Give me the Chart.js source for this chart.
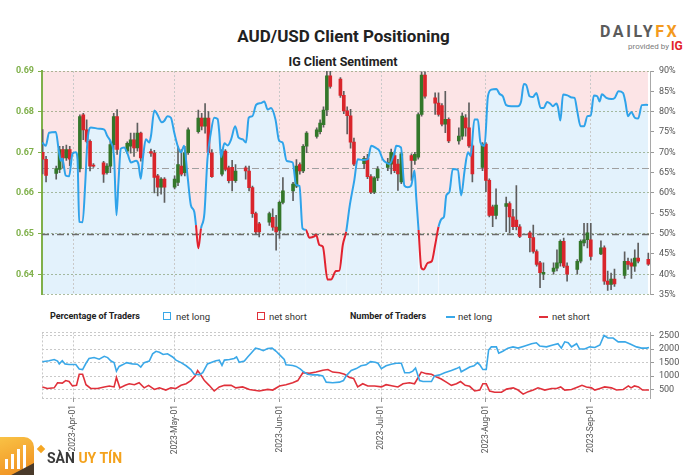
<!DOCTYPE html>
<html>
<head>
<meta charset="utf-8">
<title>AUD/USD Client Positioning</title>
<script src="https://cdn.jsdelivr.net/npm/chart.js@4.4.1/dist/chart.umd.min.js"></script>
<style>
  body { margin: 0; background: #fff; font-family: Roboto, sans-serif; }
  #page { position: relative; width: 700px; height: 475px; overflow: hidden; background: #fff; }
  canvas { position: absolute; left: 0; }
  .t { position: absolute; white-space: nowrap; }
  #title { left: 0; width: 687px; top: 26px; text-align: center; font: 700 17px/20px Roboto, sans-serif; color: #222; }
  #subtitle { left: 0; width: 686px; top: 54px; text-align: center; font: 700 12.5px/15px Roboto, sans-serif; color: #222; }
  #logo { left: 600px; top: 23px; font: 700 16px/18px Roboto, sans-serif; letter-spacing: 2.6px; color: #5b5b5b; }
  #logo span { color: #f39a1e; }
  #provided { left: 628px; top: 42px; font: 8px/10px Roboto, sans-serif; color: #7a7a7a; }
  #ig { left: 671px; top: 39px; font: 700 12px/14px Roboto, sans-serif; color: #e3242b; }
  .lg { top: 311px; font: 9.5px/11px Roboto, sans-serif; color: #333; }
  .lgb { font-weight: 700; font-size: 9px; color: #222; }
  .sq { position: absolute; top: 312px; width: 6px; height: 6px; border: 1.6px solid; }
  .ln { position: absolute; top: 315.5px; width: 9px; height: 2px; }
  #wm { left: 0; top: 437px; width: 34px; height: 38px; border-radius: 0 10px 0 0;
        background: linear-gradient(160deg, #f9c245, #f08d1f); position: absolute; overflow: hidden; }
  #wm i { position: absolute; bottom: 6px; width: 3px; background: #fff; }
  #wm b { position: absolute; left: 14px; bottom: -14px; width: 30px; height: 22px; background: #4a3a2a; transform: rotate(-28deg); }
  #star { left: 38px; top: 446px; width: 6px; height: 6px; background: #f5a623; transform: rotate(45deg); position: absolute; }
  #wmtext { left: 47px; top: 450px; font: 700 14px/16px Roboto, sans-serif; color: #3a3a3a; }
  #wmtext span { color: #f4a21c; }
</style>
</head>
<body>
<div id="page">
  <div class="t" id="title">AUD/USD Client Positioning</div>
  <div class="t" id="subtitle">IG Client Sentiment</div>
  <div class="t" id="logo">DAILY<span>FX</span></div>
  <div class="t" id="provided">provided by</div>
  <div class="t" id="ig">IG</div>

  <canvas id="main" width="700" height="245" style="top:60px"></canvas>

  <div class="t lg lgb" style="left:50px">Percentage of Traders</div>
  <div class="sq" style="left:163px;border-color:#3aa8e8"></div>
  <div class="t lg" style="left:176px">net long</div>
  <div class="sq" style="left:257px;border-color:#e0303a"></div>
  <div class="t lg" style="left:269px">net short</div>
  <div class="t lg lgb" style="left:350px">Number of Traders</div>
  <div class="ln" style="left:446px;background:#3aa8e8"></div>
  <div class="t lg" style="left:458px">net long</div>
  <div class="ln" style="left:539px;background:#e0303a"></div>
  <div class="t lg" style="left:552px">net short</div>

  <canvas id="traders" width="700" height="153" style="top:322px"></canvas>

  <div id="wm"><i style="left:5px;height:10px"></i><i style="left:11px;height:15px"></i><i style="left:17px;height:20px"></i><i style="left:23px;height:24px"></i><b></b></div>
  <div id="star"></div>
  <div class="t" id="wmtext">SÀN <span>UY TÍN</span></div>
</div>

<script>
// colours
const BLUE = '#2fa3ea', RED = '#e1222f';
const PINK = '#fce4e6', PALE_BLUE = '#e3f2fc';
const UP = '#33772a', DOWN = '#d9252b', WICK = '#5e5e5e';
const AXIS_GREEN = '#7fb04a';

// x values are days counted from 2023-04-01
const xMin = -9.2, xMax = 170.5;
const monthDays = [0, 30, 61, 91, 122, 153];
const monthLabels = ['2023-Apr-01', '2023-May-01', '2023-Jun-01', '2023-Jul-01', '2023-Aug-01', '2023-Sep-01'];
const priceTicks = [0.64, 0.65, 0.66, 0.67, 0.68, 0.69];
const pctTicks = [35, 40, 45, 50, 55, 60, 65, 70, 75, 80, 85, 90];
const traderTicks = [500, 1000, 1500, 2000, 2500];
const refLevels = [50, 66.2];

// daily AUD/USD candles
const candleDay = [-9, -8, -5, -4, -3, -2, -1, 2, 3, 4, 5, 6, 9, 10, 11, 12, 13, 16, 17, 18, 19, 20,
  23, 24, 25, 26, 27, 30, 31, 32, 33, 34, 37, 38, 39, 40, 41, 44, 45, 46, 47, 48, 51, 52, 53, 54, 55,
  58, 59, 60, 61, 62, 65, 66, 67, 68, 69, 72, 73, 74, 75, 76, 79, 80, 81, 82, 83, 86, 87, 88, 89, 90,
  93, 94, 95, 96, 97, 100, 101, 102, 103, 104, 107, 108, 109, 110, 111, 114, 115, 116, 117, 118,
  121, 122, 123, 124, 125, 128, 129, 130, 131, 132, 135, 136, 137, 138, 139, 142, 143, 144, 145, 146,
  149, 150, 151, 152, 153, 156, 157, 158, 159, 160, 163, 164, 165, 166, 167, 170];
const openP = [.6700, .6683, .6648, .6658, .6707, .6686, .6707, .6660, .6792, .6755, .6727, .6668, .6674, .6650, .6666, .6719, .6788,
  .6703, .6715, .6731, .6711, .6747, .6702, .6698, .6642, .6614, .6634, .6614, .6626, .6666, .6650, .6699,
  .6751, .6784, .6764, .6784, .6699, .6646, .6703, .6662, .6663, .6630, .6662, .6654, .6613, .6549, .6524,
  .6528, .6540, .6516, .6508, .6577, .6605, .6617, .6670, .6654, .6715, .6739, .6751, .6768, .6804, .6888,
  .6880, .6840, .6802, .6790, .6725, .6672, .6685, .6640, .6602, .6637, .6663, .6671, .6692, .6671, .6627,
  .6692, .6680, .6688, .6793, .6890, .6834, .6821, .6815, .6769, .6781, .6728, .6740, .6785, .6760, .6716,
  .6663, .6720, .6631, .6566, .6545, .6567, .6574, .6541, .6533, .6517, .6502, .6490, .6456, .6428, .6400,
  .6407, .6415, .6428, .6481, .6420, .6412, .6432, .6477, .6485, .6485, .6450, .6465, .6383, .6375, .6388,
  .6397, .6432, .6428, .6420, .6440, .6437];
const highP = [.6756, .6690, .6666, .6715, .6715, .6718, .6715, .6792, .6796, .6780, .6731, .6672, .6678, .6672, .6727, .6796, .6805,
  .6726, .6747, .6747, .6772, .6750, .6708, .6705, .6646, .6638, .6638, .6642, .6715, .6707, .6715, .6760,
  .6804, .6796, .6820, .6800, .6707, .6707, .6707, .6666, .6680, .6670, .6666, .6666, .6617, .6553, .6528,
  .6553, .6561, .6545, .6580, .6638, .6626, .6682, .6674, .6719, .6751, .6760, .6780, .6812, .6900, .6900,
  .6884, .6850, .6812, .6806, .6735, .6690, .6695, .6645, .6640, .6665, .6685, .6708, .6702, .6683, .6700,
  .6696, .6700, .6797, .6898, .6898, .6846, .6846, .6820, .6850, .6785, .6760, .6797, .6793, .6822, .6720,
  .6724, .6724, .6635, .6570, .6610, .6590, .6578, .6560, .6618, .6522, .6506, .6521, .6460, .6432, .6428,
  .6428, .6460, .6485, .6489, .6428, .6436, .6485, .6525, .6525, .6525, .6482, .6470, .6408, .6403, .6413,
  .6455, .6440, .6438, .6460, .6477, .6452];
const lowP = [.6647, .6627, .6634, .6650, .6662, .6680, .6667, .6652, .6731, .6723, .6654, .6663, .6626, .6646, .6650, .6707, .6695,
  .6698, .6698, .6690, .6703, .6678, .6690, .6600, .6593, .6597, .6577, .6610, .6618, .6642, .6642, .6695,
  .6747, .6755, .6747, .6695, .6638, .6642, .6654, .6625, .6605, .6626, .6634, .6605, .6540, .6500, .6492,
  .6520, .6508, .6459, .6488, .6573, .6581, .6613, .6646, .6650, .6699, .6735, .6745, .6762, .6790, .6858,
  .6835, .6795, .6745, .6710, .6667, .6660, .6635, .6598, .6598, .6630, .6655, .6647, .6650, .6606, .6623,
  .6631, .6670, .6683, .6789, .6833, .6793, .6789, .6765, .6748, .6724, .6720, .6732, .6740, .6712, .6627,
  .6655, .6603, .6541, .6517, .6536, .6505, .6501, .6510, .6509, .6490, .6455, .6452, .6420, .6367, .6387,
  .6400, .6408, .6420, .6416, .6383, .6400, .6428, .6470, .6465, .6435, .6448, .6375, .6360, .6362, .6370,
  .6390, .6412, .6390, .6407, .6428, .6422];
const closeP = [.6683, .6643, .6660, .6707, .6686, .6707, .6683, .6788, .6755, .6727, .6666, .6666, .6646, .6666, .6719, .6788, .6707,
  .6722, .6731, .6711, .6747, .6686, .6698, .6638, .6614, .6634, .6614, .6634, .6670, .6646, .6699, .6755,
  .6784, .6764, .6784, .6699, .6640, .6703, .6658, .6630, .6631, .6654, .6654, .6613, .6549, .6504, .6504,
  .6549, .6516, .6504, .6577, .6605, .6622, .6666, .6654, .6715, .6747, .6755, .6772, .6804, .6888, .6862,
  .6840, .6802, .6790, .6725, .6671, .6685, .6640, .6602, .6637, .6659, .6675, .6700, .6655, .6647, .6696,
  .6680, .6695, .6793, .6890, .6838, .6821, .6793, .6769, .6781, .6728, .6740, .6789, .6760, .6716, .6647,
  .6720, .6631, .6545, .6545, .6570, .6574, .6541, .6517, .6517, .6493, .6490, .6456, .6424, .6404, .6405,
  .6415, .6428, .6481, .6420, .6400, .6432, .6481, .6485, .6502, .6444, .6465, .6383, .6375, .6388, .6376,
  .6432, .6424, .6420, .6440, .6432, .6425];

// IG client sentiment: % of traders net long
const sentDay = [-9.1, -8.1, -7.1, -5.1, -4.3, -3.6, -3.2, -2.2, -1.2, -0.2, 0.8, 1.3, 1.8, 2.8, 3.6, 4.2, 5.2, 7.7, 9.2, 10.1,
  11.2, 12.1, 12.8, 13.4, 14.1, 15.1, 16.1, 17.1, 18.6, 19.3, 20.0, 20.7, 21.5, 22.5, 23.0, 24.0, 24.9, 26.2, 26.9, 27.9,
  28.9, 29.9, 30.9, 31.9, 32.8, 33.8, 34.8, 35.8, 36.3, 37.0, 37.8, 38.8, 39.7, 40.7, 41.7, 42.7, 43.2, 43.7, 44.7, 45.7,
  46.7, 47.9, 48.9, 50.1, 51.1, 51.9, 53.0, 54.1, 55.5, 56.5, 57.5, 58.5, 59.8, 60.9, 61.9, 63.1, 64.9, 65.9, 66.9, 67.8,
  68.8, 69.8, 71.3, 71.8, 72.8, 73.8, 75.2, 76.2, 77.7, 78.7, 79.7, 80.7, 81.7, 83.1, 84.1, 85.6, 87.1, 88.1, 89.6, 90.5,
  91.5, 92.5, 93.5, 95.0, 95.5, 96.9, 97.9, 98.9, 99.9, 100.9, 101.4, 102.1, 102.9, 103.6, 104.8, 106.0, 107.0, 108.0, 109.0, 109.6,
  110.3, 111.2, 112.2, 113.7, 114.7, 115.7, 116.7, 117.5, 118.6, 119.6, 120.4, 121.6, 122.6, 123.6, 125.1, 126.0, 127.0, 128.0, 129.5, 131.4,
  132.4, 133.2, 133.9, 134.9, 135.9, 136.9, 138.2, 139.1, 140.1, 141.1, 141.8, 142.8, 143.3, 144.0, 144.8, 146.1, 147.4, 148.2, 149.0, 150.0,
  151.0, 152.0, 153.0, 153.9, 154.9, 155.6, 156.3, 157.6, 159.1, 160.1, 161.2, 162.5, 163.2, 164.0, 165.0, 166.0, 167.0, 168.1, 169.4, 169.9];
const sentLong = [72.4, 71.6, 74.8, 75.0, 70.8, 67.9, 68.5, 64.3, 64.1, 69.6, 70.0, 68.3, 52.9, 52.8, 62.7, 72.4, 76.1, 75.8, 75.6, 74.0,
  72.4, 68.8, 54.5, 62.7, 70.9, 71.2, 69.6, 67.5, 67.9, 67.1, 63.5, 69.1, 73.2, 72.4, 74.0, 80.3, 79.3, 77.4, 77.7, 78.9,
  78.5, 74.8, 71.6, 70.0, 71.6, 64.3, 57.0, 55.4, 52.1, 46.4, 51.3, 55.0, 68.3, 74.8, 78.5, 78.2, 74.8, 68.8, 72.2, 71.7,
  73.2, 76.4, 73.6, 73.2, 72.4, 78.5, 78.9, 81.7, 82.1, 82.5, 80.5, 80.9, 78.1, 72.8, 72.4, 67.9, 67.5, 62.0, 61.7, 51.3,
  50.9, 49.0, 49.3, 49.7, 47.2, 46.8, 38.7, 38.7, 40.8, 40.9, 47.2, 50.5, 56.6, 63.1, 68.3, 68.1, 68.3, 71.6, 71.0, 70.4,
  68.3, 67.5, 67.1, 70.0, 71.6, 71.2, 61.8, 61.4, 61.8, 65.5, 59.0, 50.9, 41.6, 41.2, 42.8, 43.2, 47.2, 51.7, 53.7, 54.1,
  59.4, 60.2, 65.9, 65.7, 59.4, 65.5, 70.0, 69.1, 78.1, 78.1, 72.4, 71.6, 83.8, 85.4, 85.6, 84.4, 83.8, 81.6, 81.3, 81.3,
  82.5, 86.8, 86.6, 83.8, 83.6, 84.6, 80.9, 80.9, 82.4, 81.9, 81.3, 82.0, 81.1, 77.8, 84.2, 84.0, 83.5, 83.4, 80.1, 76.4,
  76.4, 78.9, 79.1, 84.0, 83.8, 82.5, 84.3, 83.4, 83.1, 83.4, 85.0, 84.6, 82.5, 78.9, 79.9, 78.5, 78.3, 81.6, 81.7, 81.6];

// number of traders
const longDay = [-9.1, -7.1, -5.6, -4.6, -4.1, -3.2, -2.4, -1.2, 0.8, 1.8, 2.8, 3.8, 4.7, 6.2, 7.7, 9.2, 10.2, 11.2, 12.1, 12.8,
  13.6, 14.6, 15.8, 17.5, 19.0, 20.0, 21.0, 22.5, 23.5, 24.5, 25.5, 26.6, 27.9, 29.4, 30.4, 31.9, 33.4, 34.8, 35.8, 37.3,
  38.3, 39.7, 41.2, 42.2, 43.2, 44.0, 44.7, 46.2, 47.6, 48.3, 49.1, 50.6, 51.6, 52.6, 53.9, 55.0, 56.2, 57.5, 58.8, 60.0,
  61.2, 62.4, 62.9, 64.9, 65.9, 67.1, 68.1, 69.3, 70.8, 72.3, 73.8, 74.8, 76.7, 78.7, 79.9, 80.7, 82.2, 83.7, 85.1, 86.6,
  87.9, 89.3, 90.1, 91.1, 92.5, 94.0, 95.5, 97.0, 98.0, 99.4, 100.4, 101.2, 102.4, 103.4, 105.9, 106.8, 108.3, 109.8, 111.8, 113.3,
  114.2, 114.7, 116.2, 117.2, 118.5, 119.5, 120.2, 121.1, 122.1, 122.8, 123.6, 125.1, 125.8, 127.0, 128.5, 130.0, 131.5, 133.5, 135.5, 136.9,
  137.9, 139.9, 141.8, 143.3, 144.3, 145.3, 146.3, 147.3, 148.8, 149.7, 151.2, 152.7, 154.2, 155.7, 156.9, 158.1, 159.6, 161.1, 163.1, 164.8,
  166.5, 168.0, 169.5, 170.2];
const longCount = [1535, 1570, 1616, 1558, 1453, 1570, 1453, 1430, 1430, 1267, 1244, 1477, 1651, 1686, 1628, 1732, 1686, 1558, 1500, 1186,
  1360, 1418, 1500, 1453, 1442, 1337, 1500, 1558, 1825, 1919, 1884, 1802, 1825, 1709, 1593, 1500, 1384, 1244, 1070, 1058,
  1128, 1453, 1523, 1570, 1593, 1395, 1593, 1616, 1651, 1709, 1512, 1558, 1709, 1849, 2035, 2000, 1942, 2023, 2035, 1919,
  1767, 1616, 1418, 1395, 1360, 1267, 1163, 1070, 1047, 1047, 1012, 779, 756, 779, 837, 1012, 1209, 1279, 1384, 1418,
  1535, 1512, 1477, 1279, 1384, 1442, 1477, 1477, 1128, 1128, 1186, 1302, 837, 802, 802, 1012, 1047, 1128, 1209, 1279,
  1337, 1163, 1267, 1337, 1384, 1500, 1418, 1244, 1244, 1965, 2081, 2081, 1849, 1919, 2035, 2081, 2035, 2116, 2198, 2232,
  2116, 2081, 2151, 2198, 2035, 2267, 2232, 2081, 2198, 2000, 2000, 2081, 2058, 2151, 2500, 2407, 2407, 2267, 2267, 2174,
  2081, 2035, 2035, 2058];
const shortDay = [-9.1, -7.6, -5.6, -4.6, -3.2, -2.2, -1.2, -0.2, 1.0, 1.8, 2.8, 3.8, 5.2, 7.2, 9.2, 10.7, 12.1, 12.8, 13.8, 15.4,
  16.6, 18.1, 19.5, 21.0, 22.3, 24.0, 25.5, 27.4, 28.9, 30.4, 31.9, 33.4, 34.8, 36.1, 36.8, 37.5, 38.8, 40.2, 41.7, 43.2,
  44.7, 46.7, 48.1, 50.1, 52.1, 55.0, 57.5, 59.0, 61.0, 62.9, 64.9, 66.4, 67.9, 69.8, 71.8, 73.8, 75.3, 76.7, 78.7, 80.2,
  81.7, 82.9, 84.1, 85.6, 87.1, 89.1, 91.1, 92.5, 94.5, 96.0, 97.5, 99.4, 100.9, 102.9, 104.4, 105.9, 107.3, 108.8, 110.3, 111.8,
  113.3, 114.5, 115.9, 117.2, 118.7, 120.2, 121.1, 122.1, 123.1, 124.6, 126.6, 128.1, 130.1, 131.5, 133.0, 134.5, 136.0, 137.4, 139.4, 141.4,
  142.9, 144.1, 145.3, 147.3, 149.2, 150.4, 151.7, 153.2, 154.2, 155.7, 157.1, 159.1, 160.6, 162.6, 164.1, 164.9, 165.9, 167.1, 168.3, 170.2];
const shortCount = [604, 546, 569, 756, 744, 837, 802, 639, 662, 1070, 1070, 686, 546, 546, 604, 639, 604, 953, 569, 662,
  721, 686, 756, 569, 662, 511, 569, 488, 569, 546, 662, 721, 837, 1012, 1209, 1093, 837, 662, 453, 604,
  662, 662, 569, 604, 511, 453, 511, 488, 639, 686, 756, 837, 1128, 1105, 1151, 1221, 1244, 1151, 1128, 1070,
  953, 918, 604, 721, 639, 639, 604, 686, 639, 604, 721, 756, 721, 1151, 1093, 1070, 977, 895, 779, 662,
  721, 802, 662, 627, 453, 488, 721, 721, 453, 407, 407, 523, 569, 488, 337, 430, 488, 569, 488, 546,
  546, 604, 488, 511, 604, 662, 604, 569, 488, 546, 604, 569, 488, 511, 639, 569, 639, 604, 488, 488];

// draws the 50% and mean dash-dot levels under the candles
const refLinePlugin = {
  id: 'refLines',
  beforeDatasetsDraw(chart) {
    const { ctx, chartArea, scales } = chart;
    const styles = [['#6c6c6c', 1.6], ['#a0a0a0', 1.1]];
    ctx.save();
    ctx.setLineDash([7, 3, 2, 3]);
    refLevels.forEach((lvl, i) => {
      const y = Math.round(scales.yPct.getPixelForValue(lvl)) + 0.5;
      ctx.strokeStyle = styles[i][0];
      ctx.lineWidth = styles[i][1];
      ctx.beginPath();
      ctx.moveTo(chartArea.left, y);
      ctx.lineTo(chartArea.right, y);
      ctx.stroke();
    });
    ctx.restore();
  }
};

const sentPts = sentDay.map((d, i) => ({ x: d, y: sentLong[i] }));
const wickPts = candleDay.map((d, i) => ({ x: d, y: [lowP[i], highP[i]] }));
const bodyPts = candleDay.map((d, i) => ({ x: d, y: [openP[i], closeP[i]] }));
const bodyColors = candleDay.map((d, i) => closeP[i] >= openP[i] ? UP : DOWN);

const tickFont = { family: 'Roboto', size: 9 };

new Chart(document.getElementById('main'), {
  type: 'line',
  data: {
    datasets: [
      { // pink above the sentiment line
        data: sentPts, yAxisID: 'yPct', fill: 'end', backgroundColor: PINK,
        borderWidth: 0, pointRadius: 0, cubicInterpolationMode: 'monotone', order: 9
      },
      { // sentiment line, pale blue below it
        data: sentPts, yAxisID: 'yPct', fill: 'start', backgroundColor: PALE_BLUE,
        borderColor: BLUE, borderWidth: 2, pointRadius: 0, cubicInterpolationMode: 'monotone',
        segment: { borderColor: c => (c.p0.parsed.y < 50 || c.p1.parsed.y < 50) ? RED : BLUE },
        order: 0
      },
      {
        type: 'bar', data: wickPts, yAxisID: 'yPrice', backgroundColor: WICK,
        barThickness: 1, grouped: false, order: 3
      },
      {
        type: 'bar', data: bodyPts, yAxisID: 'yPrice', backgroundColor: bodyColors,
        barThickness: 3, grouped: false, minBarLength: 1, order: 2
      }
    ]
  },
  options: {
    responsive: false,
    animation: false,
    events: [],
    layout: { padding: { top: 11, bottom: 8, left: 0, right: 0 } },
    plugins: {
      legend: { display: false },
      tooltip: { enabled: false },
      filler: { drawTime: 'beforeDraw' }
    },
    scales: {
      x: {
        type: 'linear', min: xMin, max: xMax, offset: false,
        afterBuildTicks: s => { s.ticks = monthDays.map(v => ({ value: v })); },
        ticks: { display: false },
        grid: { color: '#c9c9c9', drawTicks: false, offset: false },
        border: { display: false, dash: [2, 2] },
        afterFit: s => { s.height = 0; }
      },
      yPrice: {
        position: 'left', min: 0.635, max: 0.69,
        afterBuildTicks: s => { s.ticks = [s.min, ...priceTicks].map(v => ({ value: v })); },
        ticks: {
          autoSkip: false,
          color: AXIS_GREEN, font: { family: 'Roboto', size: 9, weight: 'bold' }, padding: 4,
          callback: v => priceTicks.includes(v) ? v.toFixed(2) : ''
        },
        grid: {
          color: 'rgba(120,145,95,0.6)', tickLength: 4,
          tickColor: c => (c.tick && priceTicks.includes(c.tick.value)) ? AXIS_GREEN : 'rgba(0,0,0,0)'
        },
        border: { color: AXIS_GREEN, width: 2, dash: [2, 2] },
        afterFit: s => { s.width = 42; }
      },
      yPct: {
        position: 'right', min: 35, max: 90,
        afterBuildTicks: s => { s.ticks = pctTicks.map(v => ({ value: v })); },
        ticks: { autoSkip: false, color: '#555', font: tickFont, padding: 5, callback: v => v + '%' },
        grid: { drawOnChartArea: false, tickLength: 4, tickColor: '#999' },
        border: { color: '#a8a8a8', width: 1 },
        afterFit: s => { s.width = 50; }
      }
    }
  },
  plugins: [refLinePlugin]
});

const longPts = longDay.map((d, i) => ({ x: d, y: longCount[i] }));
const shortPts = shortDay.map((d, i) => ({ x: d, y: shortCount[i] }));

new Chart(document.getElementById('traders'), {
  type: 'line',
  data: {
    datasets: [
      { data: longPts, yAxisID: 'yN', borderColor: '#3aa8e8', borderWidth: 1.6, pointRadius: 0, fill: false },
      { data: shortPts, yAxisID: 'yN', borderColor: '#e0303a', borderWidth: 1.6, pointRadius: 0, fill: false }
    ]
  },
  options: {
    responsive: false,
    animation: false,
    events: [],
    layout: { padding: { top: 7, bottom: 0, left: 42, right: 0 } },
    plugins: { legend: { display: false }, tooltip: { enabled: false } },
    scales: {
      x: {
        type: 'linear', min: xMin, max: xMax, offset: false,
        afterBuildTicks: s => { s.ticks = [s.min, ...monthDays].map(v => ({ value: v })); },
        ticks: {
          autoSkip: false, minRotation: 90, maxRotation: 90, padding: 3,
          color: '#555', font: { family: 'Roboto', size: 8.5 },
          callback: v => monthDays.includes(v) ? monthLabels[monthDays.indexOf(v)] : ''
        },
        grid: {
          color: '#c9c9c9', tickLength: 4,
          tickColor: c => (c.tick && monthDays.includes(c.tick.value)) ? '#999' : 'rgba(0,0,0,0)'
        },
        border: { display: false, dash: [2, 2] },
        afterFit: s => { s.height = 77; }
      },
      yN: {
        position: 'right', min: 195, max: 2615,
        afterBuildTicks: s => { s.ticks = [s.min, ...traderTicks, s.max].map(v => ({ value: v })); },
        ticks: {
          autoSkip: false,
          color: '#555', font: tickFont, padding: 5,
          callback: v => traderTicks.includes(v) ? String(v) : ''
        },
        grid: {
          color: '#c9c9c9', tickLength: 4,
          tickColor: c => (c.tick && traderTicks.includes(c.tick.value)) ? '#999' : 'rgba(0,0,0,0)'
        },
        border: { color: '#a8a8a8', width: 1, dash: [2, 2] },
        afterFit: s => { s.width = 50; }
      }
    }
  }
});
</script>
</body>
</html>
